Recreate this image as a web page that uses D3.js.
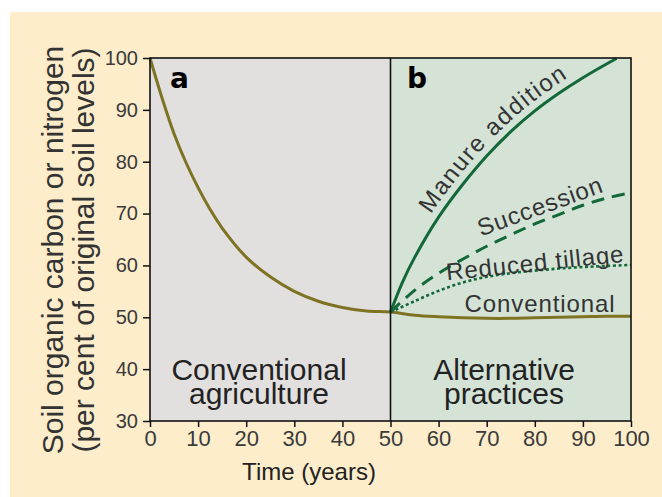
<!DOCTYPE html>
<html>
<head>
<meta charset="utf-8">
<script src="https://cdn.jsdelivr.net/npm/d3@7"></script>
<style>
  body { margin: 0; background: #fff; }
  text { font-family: "Liberation Sans", Arial, sans-serif; }
</style>
</head>
<body>
<svg id="chart"></svg>
<script>
// panel a: conventional agriculture, years 0-50
var yearsA = [0, 2.5, 5, 7.5, 10, 12.5, 15, 20, 25, 30, 35, 40, 45, 50];
var conventionalA = [100, 92.3, 85.4, 79.8, 75, 70.8, 67.2, 61.6, 57.8, 55, 53.1, 51.9, 51.2, 51];

// panel b: alternative practices, years 50-100
var yearsB = [50, 55, 60, 65, 70, 75, 80, 85, 90, 95, 100];
var conventionalB = [51, 50.4, 50.1, 49.9, 49.8, 49.8, 49.9, 50.0, 50.1, 50.2, 50.2];
var successionB = [51, 55.2, 58.5, 61.2, 63.7, 65.9, 68, 69.8, 71.6, 73, 74];
var tillageB = [51, 53.1, 55.1, 56.7, 57.8, 58.5, 59, 59.4, 59.7, 59.9, 60.1];
var manureYears = [50, 52.5, 55, 60, 65, 70, 75, 80, 85, 90, 95, 97];
var manureB = [51, 56.8, 61.5, 69.3, 75.6, 81.1, 85.8, 89.8, 93.2, 96.2, 98.9, 99.9];

var xTicks = [0, 10, 20, 30, 40, 50, 60, 70, 80, 90, 100];
var yTicks = [30, 40, 50, 60, 70, 80, 90, 100];

var W = 662, H = 497;
var OLIVE = '#7e7322', GREEN = '#13683a';

var svg = d3.select('svg#chart').attr('width', W).attr('height', H);

svg.append('rect')
    .attr('x', 10).attr('y', 12)
    .attr('width', W - 10).attr('height', H - 12)
    .style('fill', '#fdedca');

var x = d3.scaleLinear().domain([0, 100]).range([150, 631]);
var y = d3.scaleLinear().domain([30, 100]).range([421, 58]);

// panel backgrounds
svg.append('rect')
    .attr('x', x(0)).attr('y', y(100))
    .attr('width', x(50) - x(0)).attr('height', y(30) - y(100))
    .style('fill', '#e2dfdf');
svg.append('rect')
    .attr('x', x(50)).attr('y', y(100))
    .attr('width', x(100) - x(50)).attr('height', y(30) - y(100))
    .style('fill', '#d4e3d6');

function zip(xs, ys) {
    return xs.map(function(d, i) { return [d, ys[i]]; });
}

var line = d3.line()
    .x(function(d) { return x(d[0]); })
    .y(function(d) { return y(d[1]); })
    .curve(d3.curveCatmullRom.alpha(0.5));

// conventional (both panels)
svg.append('path')
    .attr('d', line(zip(yearsA, conventionalA).concat(zip(yearsB, conventionalB).slice(1))))
    .style('fill', 'none').style('stroke', OLIVE).style('stroke-width', 3);

svg.append('path')
    .attr('d', line(zip(yearsB, tillageB)))
    .style('fill', 'none').style('stroke', GREEN).style('stroke-width', 2.6)
    .style('stroke-dasharray', '3,2.6');

svg.append('path')
    .attr('d', line(zip(yearsB, successionB)))
    .style('fill', 'none').style('stroke', GREEN).style('stroke-width', 3)
    .style('stroke-dasharray', '13,8');

var manurePath = svg.append('path')
    .attr('id', 'manure-path')
    .attr('d', line(zip(manureYears, manureB)))
    .style('fill', 'none').style('stroke', GREEN).style('stroke-width', 3);

// frame and divider
svg.append('rect')
    .attr('x', x(0)).attr('y', y(100))
    .attr('width', x(100) - x(0)).attr('height', y(30) - y(100))
    .style('fill', 'none').style('stroke', '#111').style('stroke-width', 1.6);
svg.append('line')
    .attr('x1', x(50)).attr('x2', x(50))
    .attr('y1', y(100)).attr('y2', y(30))
    .style('stroke', '#111').style('stroke-width', 1.6);

// axes
var yAxis = svg.append('g')
    .attr('transform', 'translate(' + x(0) + ',0)')
    .call(d3.axisLeft(y).tickValues(yTicks).tickSize(7).tickPadding(5).tickSizeOuter(0));
var xAxis = svg.append('g')
    .attr('transform', 'translate(0,' + y(30) + ')')
    .call(d3.axisBottom(x).tickValues(xTicks).tickSize(6).tickPadding(3).tickSizeOuter(0));

[yAxis, xAxis].forEach(function(g) {
    g.select('.domain').remove();
    g.selectAll('.tick line').style('stroke', '#111').style('stroke-width', 1.5);
    g.selectAll('.tick text')
        .style('font-family', '"Liberation Sans", Arial, sans-serif')
        .style('fill', '#3a3a3a');
});
yAxis.selectAll('.tick text').style('font-size', '20px');
xAxis.selectAll('.tick text').style('font-size', '22px');

// axis titles
svg.append('text')
    .attr('x', 309).attr('y', 480)
    .style('font-size', '24px').style('fill', '#222')
    .style('text-anchor', 'middle')
    .text('Time (years)');

var yTitle = svg.append('text')
    .attr('transform', 'translate(0,250) rotate(-90)')
    .style('font-size', '30px').style('fill', '#333')
    .style('text-anchor', 'middle');
yTitle.append('tspan').attr('x', 0).attr('y', 63).text('Soil organic carbon or nitrogen');
yTitle.append('tspan').attr('x', 0).attr('y', 94).text('(per cent of original soil levels)');

// panel letters
svg.append('text').attr('x', 170).attr('y', 88)
    .style('font-family', '"DejaVu Sans", sans-serif').style('font-weight', 'bold')
    .style('font-size', '28px').style('fill', '#000').text('a');
svg.append('text').attr('x', 407).attr('y', 88)
    .style('font-family', '"DejaVu Sans", sans-serif').style('font-weight', 'bold')
    .style('font-size', '28px').style('fill', '#000').text('b');

// panel captions
function caption(cx, lines) {
    var t = svg.append('text')
        .style('font-size', '30px').style('fill', '#222')
        .style('text-anchor', 'middle');
    lines.forEach(function(s, i) {
        t.append('tspan').attr('x', cx).attr('y', 380 + i * 24).text(s);
    });
}
caption(259, ['Conventional', 'agriculture']);
caption(504, ['Alternative', 'practices']);

// curve labels
function curveLabel(cx, cy, angle, s) {
    svg.append('text')
        .attr('transform', 'translate(' + cx + ',' + cy + ') rotate(' + angle + ')')
        .style('font-size', '24px').style('letter-spacing', '0.9px')
        .style('fill', '#333').style('text-anchor', 'middle')
        .text(s);
}
curveLabel(540, 312, 0, 'Conventional');
curveLabel(536, 271, -6, 'Reduced tillage');
curveLabel(543, 214, -20, 'Succession');

// manure label follows its curve
var node = manurePath.node(), total = node.getTotalLength(), start = 0;
for (var l = 0; l < total; l += 0.5) {
    if (node.getPointAtLength(l).x >= x(59.7)) { start = l; break; }
}
svg.append('text')
    .attr('dy', -8)
    .style('font-size', '24px').style('letter-spacing', '1.4px')
    .style('fill', '#333')
    .append('textPath')
    .attr('href', '#manure-path')
    .attr('startOffset', start)
    .text('Manure addition');
</script>
</body>
</html>
